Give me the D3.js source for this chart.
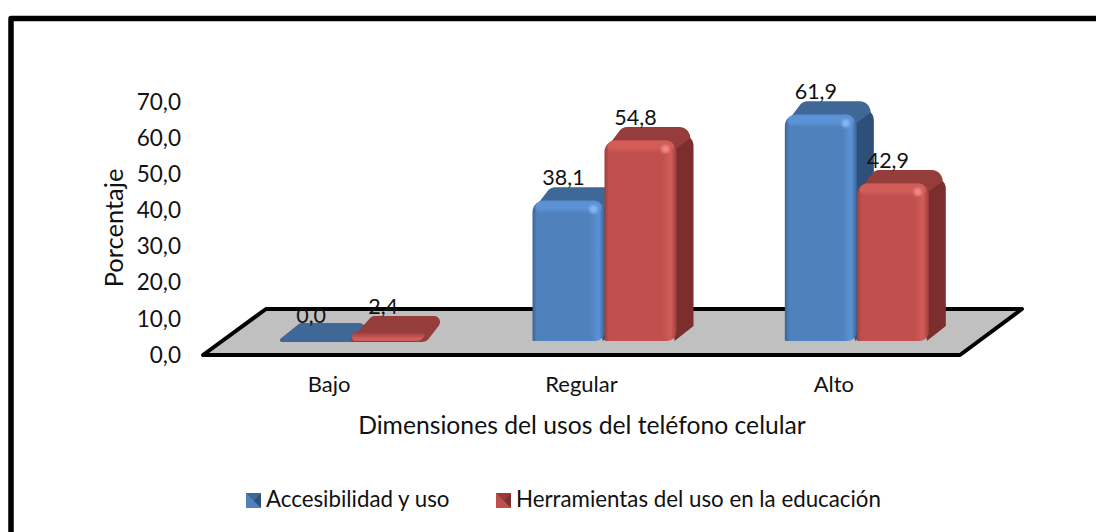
<!DOCTYPE html>
<html lang="es">

<head>
    <meta charset="UTF-8">
    <title>Dimensiones</title>
    <script src="https://d3js.org/d3.v7.min.js"></script>
    <style>
        html, body { margin: 0; padding: 0; background: #fff; }
        svg { display: block; }
        text { font-family: Lato, "Open Sans", sans-serif; fill: #111; }
    </style>
</head>

<body>
    <svg width="1096" height="532"></svg>
</body>

<script>
    // data
    var categories = ["Bajo", "Regular", "Alto"];
    var seriesNames = ["Accesibilidad y uso", "Herramientas del uso en la educación"];
    var accesibilidad = [0.0, 38.1, 61.9];
    var herramientas = [2.4, 54.8, 42.9];
    var yTicks = [0, 10, 20, 30, 40, 50, 60, 70];

    var fmt = v => v.toFixed(1).replace(".", ",");

    var svg = d3.select("svg");
    var defs = svg.append("defs");

    // outer frame, runs off the right and the bottom of the picture
    svg.append("path")
        .attr("d", "M11,540V18.5H1110")
        .attr("fill", "none")
        .attr("stroke", "#000")
        .attr("stroke-width", 5.5)
        .attr("stroke-linejoin", "round");

    // scales
    var x = d3.scaleBand().domain(categories).range([203, 960]);
    var y = d3.scaleLinear().domain([0, 70]).range([355, 102]);

    var floorDx = 63, floorDy = 46;   // oblique of the floor
    var barW = 72, depthX = 17, depthY = 13;
    var baseLift = 14, barShift = 23 - barW;

    // polygon with its own corner radius on every point: [x, y, r]
    function roundPoly(pts) {
        var p = d3.path(), n = pts.length;
        var a = pts[n - 1], b = pts[0];
        p.moveTo((a[0] + b[0]) / 2, (a[1] + b[1]) / 2);
        pts.forEach(function (pt, i) {
            var next = pts[(i + 1) % n];
            p.arcTo(pt[0], pt[1], next[0], next[1], pt[2] || 0);
        });
        p.closePath();
        return p.toString();
    }

    // floor
    svg.append("path")
        .attr("d", "M203,355L" + (203 + floorDx) + "," + (355 - floorDy) + "H" + (960 + floorDx - 1) + "L960,355Z")
        .attr("fill", "#c0c0c0")
        .attr("stroke", "#000")
        .attr("stroke-width", 4)
        .attr("stroke-linejoin", "round");

    // y axis, only the labels show
    var yAxis = svg.append("g")
        .attr("transform", "translate(188,0)")
        .call(d3.axisLeft(y).tickValues(yTicks).tickFormat(fmt).tickSize(0).tickPadding(7));
    yAxis.select(".domain").remove();
    yAxis.selectAll("text").style("font-size", "22.5px").attr("fill", "#111");

    // x axis
    var xAxis = svg.append("g")
        .attr("transform", "translate(0,376)")
        .call(d3.axisBottom(x).tickSize(0).tickPadding(0));
    xAxis.select(".domain").remove();
    xAxis.selectAll("text").style("font-size", "22px").attr("fill", "#111");

    svg.append("text")
        .attr("transform", "translate(123,228) rotate(-90)")
        .attr("text-anchor", "middle")
        .style("font-size", "25.5px")
        .text("Porcentaje");

    svg.append("text")
        .attr("x", 582)
        .attr("y", 434)
        .attr("text-anchor", "middle")
        .style("font-size", "24.7px")
        .text("Dimensiones del usos del teléfono celular");

    // colours per series
    var palette = [
        { front: "#4f81bd", edge: "#3a6596", light: "#5b93d6", top: "#3f6797", side: "#2f5078", spark: "#86b8f2" },
        { front: "#c0504d", edge: "#9c3f3d", light: "#d25c58", top: "#953c3a", side: "#7b2f2e", spark: "#f08a82" }
    ];

    defs.append("filter").attr("id", "soft")
        .append("feGaussianBlur").attr("stdDeviation", 0.6);
    defs.append("filter").attr("id", "softer")
        .append("feGaussianBlur").attr("stdDeviation", 1.5);

    palette.forEach(function (p, i) {
        var g = defs.append("linearGradient").attr("id", "front" + i);
        [[0, p.edge], [0.06, p.front], [0.8, p.front], [0.92, p.light], [1, p.edge]].forEach(function (s) {
            g.append("stop").attr("offset", s[0]).attr("stop-color", s[1]);
        });
        var t = defs.append("linearGradient").attr("id", "cap" + i)
            .attr("x1", 0).attr("x2", 0).attr("y1", 0).attr("y2", 1);
        t.append("stop").attr("offset", 0).attr("stop-color", p.light);
        t.append("stop").attr("offset", 0.6).attr("stop-color", p.light);
        t.append("stop").attr("offset", 1).attr("stop-color", p.light).attr("stop-opacity", 0);
        var st = defs.append("linearGradient").attr("id", "strip" + i)
            .attr("x1", 0).attr("x2", 0).attr("y1", 0).attr("y2", 1);
        st.append("stop").attr("offset", 0).attr("stop-color", p.top);
        st.append("stop").attr("offset", 0.7).attr("stop-color", p.light);
    });

    var bars = [];
    categories.forEach(function (c, i) {
        bars.push({ cat: c, s: 0, v: accesibilidad[i] });
        bars.push({ cat: c, s: 1, v: herramientas[i] });
    });

    function left(d) { return x(d.cat) + x.bandwidth() / 2 + barShift + d.s * barW; }

    var bar = svg.append("g").selectAll("g")
        .data(bars)
        .join("g")
        .attr("filter", "url(#soft)")
        .attr("transform", d => "translate(" + left(d) + "," + (y(0) - baseLift) + ")");

    // origin of every group is the front left corner of the base
    bar.each(function (d) {
        var g = d3.select(this), p = palette[d.s];
        var h = y(0) - y(d.v);

        if (h < 30) {
            // flat slabs in Bajo
            var back = h > 0 ? -25 : -18;
            g.append("path")
                .attr("d", roundPoly([[-4, 1, 2], [depthX + 3, back, 5], [barW + depthX + 5, back, 6], [barW + 2, 1, 7]]))
                .attr("fill", p.top);
            if (h > 0) {
                g.append("path")
                    .attr("d", roundPoly([[0, 0, 3], [0, -9, 4], [barW + 4, -9, 3], [barW - 4, 0, 5]]))
                    .attr("fill", "url(#strip" + d.s + ")");
            }
            return;
        }

        var H = h + 3;   // the cap of the bevel sits a little over the value

        // silhouette behind the front, the dark right side
        g.append("path")
            .attr("d", roundPoly([[barW - 10, -H + 2, 0], [barW + depthX, -H - depthY, 11],
                [barW + depthX, -depthY - 2, 0], [barW - 2, 0, 0]]))
            .attr("fill", p.side);
        // top face
        g.append("path")
            .attr("d", roundPoly([[2, -H + 8, 0], [depthX + 1, -H - depthY, 9], [barW + depthX - 1, -H - depthY, 11],
                [barW + depthX - 3, -H - depthY + 11, 0], [barW - 2, -H + 10, 0]]))
            .attr("fill", p.top);

        // front face
        g.append("path")
            .attr("d", roundPoly([[0, 0, 1], [0, -H, 12], [barW, -H, 12], [barW, 0, 9]]))
            .attr("fill", "url(#front" + d.s + ")");
        g.append("rect")
            .attr("x", 3).attr("y", -H + 1)
            .attr("width", barW - 6).attr("height", 12).attr("rx", 6)
            .attr("fill", "url(#cap" + d.s + ")");
        g.append("circle")
            .attr("cx", barW - 11).attr("cy", -H + 9)
            .attr("r", 4)
            .attr("fill", p.spark)
            .attr("filter", "url(#softer)");
    });

    // value labels
    svg.append("g").selectAll("text")
        .data(bars)
        .join("text")
        .attr("x", d => left(d) + 31)
        .attr("y", d => y(d.v) - baseLift - 18)
        .attr("text-anchor", "middle")
        .style("font-size", "21.5px")
        .text(d => fmt(d.v));

    // legend
    var legend = svg.append("g");
    var legendX = [246, 496];
    seriesNames.forEach(function (name, i) {
        var p = palette[i], lx = legendX[i], ly = 493, s = 15;
        var lg = legend.append("g").attr("transform", "translate(" + lx + "," + ly + ")");
        lg.append("rect").attr("width", s).attr("height", s).attr("fill", p.front);
        lg.append("path").attr("d", "M" + s + ",0L" + s / 2 + "," + s / 2 + "L" + s + "," + s + "Z").attr("fill", p.side);
        lg.append("path").attr("d", "M0,0L" + s + ",0L" + s / 2 + "," + s / 2 + "Z").attr("fill", p.top);
        legend.append("text")
            .attr("x", lx + 20)
            .attr("y", ly + 14)
            .style("font-size", "22.3px")
            .text(name);
    });
</script>

</html>
